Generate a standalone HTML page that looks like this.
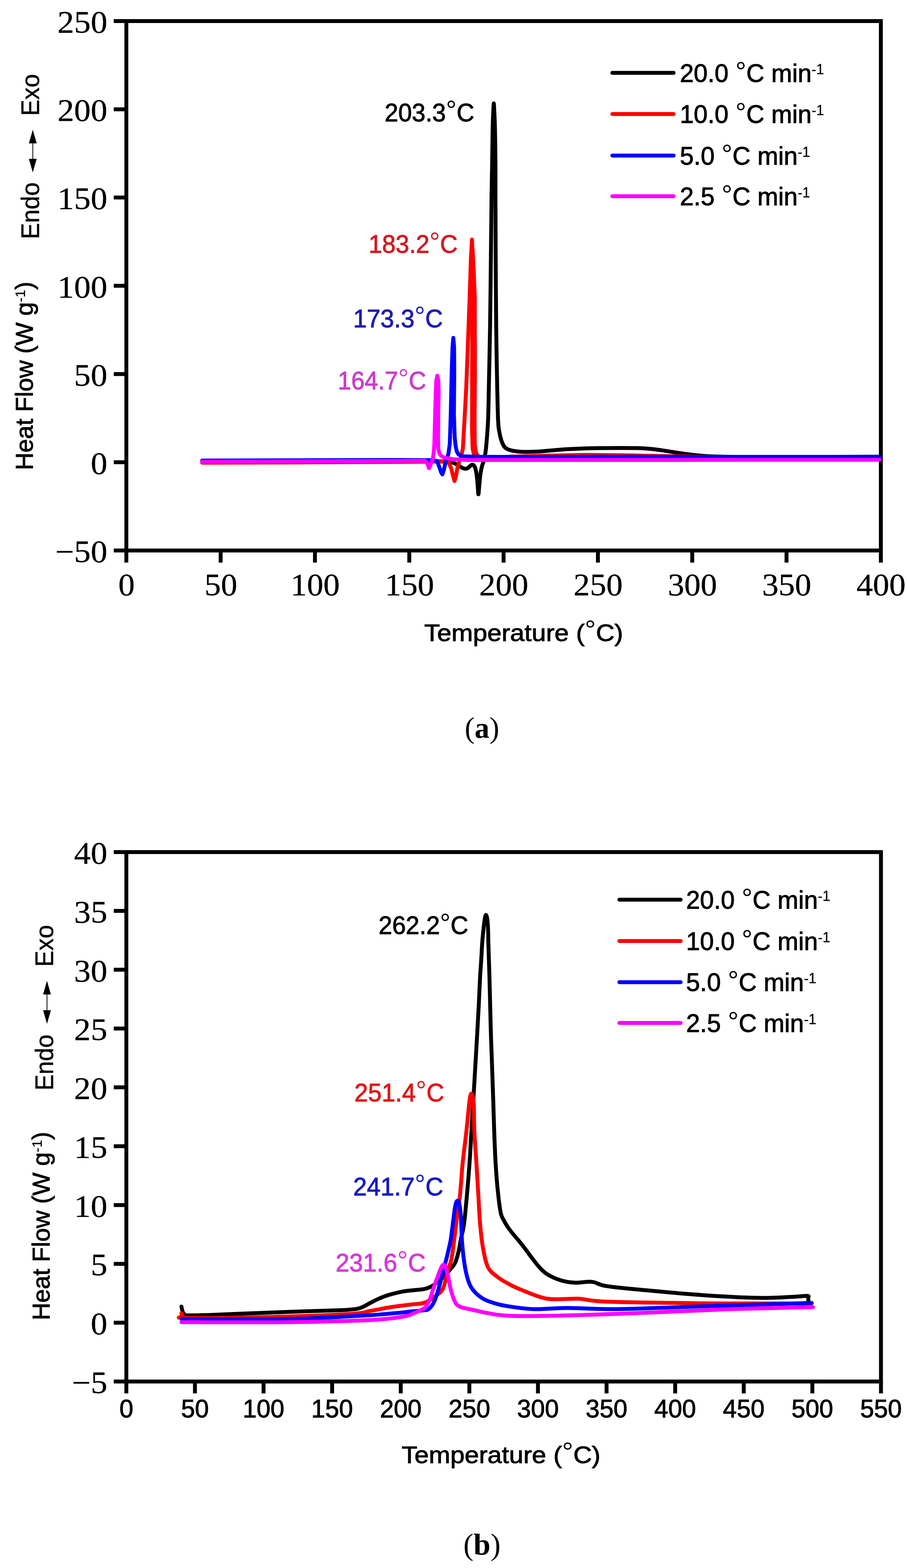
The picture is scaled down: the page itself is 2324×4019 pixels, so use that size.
<!DOCTYPE html>
<html><head><meta charset="utf-8"><title>DSC curves</title>
<style>html,body{margin:0;padding:0;background:#fff;} svg{display:block;}</style>
</head><body>
<svg width="2324" height="4019" viewBox="0 0 2324 4019">
<rect width="2324" height="4019" fill="#fff"/>
<rect x="323.7" y="54.0" width="1933.3" height="1357.0" fill="none" stroke="#000" stroke-width="10"/>
<line x1="291.5" y1="54.0" x2="323.7" y2="54.0" stroke="#000" stroke-width="10"/>
<line x1="291.5" y1="280.2" x2="323.7" y2="280.2" stroke="#000" stroke-width="10"/>
<line x1="291.5" y1="506.3" x2="323.7" y2="506.3" stroke="#000" stroke-width="10"/>
<line x1="291.5" y1="732.5" x2="323.7" y2="732.5" stroke="#000" stroke-width="10"/>
<line x1="291.5" y1="958.7" x2="323.7" y2="958.7" stroke="#000" stroke-width="10"/>
<line x1="291.5" y1="1184.8" x2="323.7" y2="1184.8" stroke="#000" stroke-width="10"/>
<line x1="291.5" y1="1411.0" x2="323.7" y2="1411.0" stroke="#000" stroke-width="10"/>
<line x1="323.7" y1="1411.0" x2="323.7" y2="1442" stroke="#000" stroke-width="10"/>
<line x1="565.4" y1="1411.0" x2="565.4" y2="1442" stroke="#000" stroke-width="10"/>
<line x1="807.0" y1="1411.0" x2="807.0" y2="1442" stroke="#000" stroke-width="10"/>
<line x1="1048.7" y1="1411.0" x2="1048.7" y2="1442" stroke="#000" stroke-width="10"/>
<line x1="1290.3" y1="1411.0" x2="1290.3" y2="1442" stroke="#000" stroke-width="10"/>
<line x1="1532.0" y1="1411.0" x2="1532.0" y2="1442" stroke="#000" stroke-width="10"/>
<line x1="1773.7" y1="1411.0" x2="1773.7" y2="1442" stroke="#000" stroke-width="10"/>
<line x1="2015.3" y1="1411.0" x2="2015.3" y2="1442" stroke="#000" stroke-width="10"/>
<line x1="2257.0" y1="1411.0" x2="2257.0" y2="1442" stroke="#000" stroke-width="10"/>
<rect x="323.7" y="2184.0" width="1933.6000000000001" height="1357.0" fill="none" stroke="#000" stroke-width="10"/>
<line x1="291.5" y1="2184.0" x2="323.7" y2="2184.0" stroke="#000" stroke-width="10"/>
<line x1="291.5" y1="2334.8" x2="323.7" y2="2334.8" stroke="#000" stroke-width="10"/>
<line x1="291.5" y1="2485.6" x2="323.7" y2="2485.6" stroke="#000" stroke-width="10"/>
<line x1="291.5" y1="2636.3" x2="323.7" y2="2636.3" stroke="#000" stroke-width="10"/>
<line x1="291.5" y1="2787.1" x2="323.7" y2="2787.1" stroke="#000" stroke-width="10"/>
<line x1="291.5" y1="2937.9" x2="323.7" y2="2937.9" stroke="#000" stroke-width="10"/>
<line x1="291.5" y1="3088.7" x2="323.7" y2="3088.7" stroke="#000" stroke-width="10"/>
<line x1="291.5" y1="3239.4" x2="323.7" y2="3239.4" stroke="#000" stroke-width="10"/>
<line x1="291.5" y1="3390.2" x2="323.7" y2="3390.2" stroke="#000" stroke-width="10"/>
<line x1="291.5" y1="3541.0" x2="323.7" y2="3541.0" stroke="#000" stroke-width="10"/>
<line x1="323.7" y1="3541.0" x2="323.7" y2="3571.5" stroke="#000" stroke-width="10"/>
<line x1="499.5" y1="3541.0" x2="499.5" y2="3571.5" stroke="#000" stroke-width="10"/>
<line x1="675.3" y1="3541.0" x2="675.3" y2="3571.5" stroke="#000" stroke-width="10"/>
<line x1="851.0" y1="3541.0" x2="851.0" y2="3571.5" stroke="#000" stroke-width="10"/>
<line x1="1026.8" y1="3541.0" x2="1026.8" y2="3571.5" stroke="#000" stroke-width="10"/>
<line x1="1202.6" y1="3541.0" x2="1202.6" y2="3571.5" stroke="#000" stroke-width="10"/>
<line x1="1378.4" y1="3541.0" x2="1378.4" y2="3571.5" stroke="#000" stroke-width="10"/>
<line x1="1554.2" y1="3541.0" x2="1554.2" y2="3571.5" stroke="#000" stroke-width="10"/>
<line x1="1730.0" y1="3541.0" x2="1730.0" y2="3571.5" stroke="#000" stroke-width="10"/>
<line x1="1905.7" y1="3541.0" x2="1905.7" y2="3571.5" stroke="#000" stroke-width="10"/>
<line x1="2081.5" y1="3541.0" x2="2081.5" y2="3571.5" stroke="#000" stroke-width="10"/>
<line x1="2257.3" y1="3541.0" x2="2257.3" y2="3571.5" stroke="#000" stroke-width="10"/>
<path d="M518.0,1183.0 C548.3,1182.9 636.3,1182.7 700.0,1182.5 C763.7,1182.3 833.3,1182.1 900.0,1182.0 C966.7,1181.9 1058.3,1181.8 1100.0,1182.0 C1141.7,1182.2 1140.2,1182.4 1150.0,1183.0 C1159.8,1183.6 1155.7,1184.3 1159.0,1185.5 C1162.3,1186.7 1166.7,1188.2 1170.0,1190.0 C1173.3,1191.8 1176.3,1194.3 1179.0,1196.0 C1181.7,1197.7 1183.5,1199.1 1186.0,1200.0 C1188.5,1200.9 1191.4,1201.7 1193.7,1201.5 C1196.0,1201.3 1198.1,1200.2 1200.0,1199.0 C1201.9,1197.8 1203.2,1195.3 1205.0,1194.0 C1206.8,1192.7 1209.0,1190.3 1211.0,1191.0 C1213.0,1191.7 1215.3,1194.0 1217.0,1198.0 C1218.7,1202.0 1219.8,1207.2 1221.0,1215.0 C1222.2,1222.8 1223.2,1236.3 1224.0,1245.0 C1224.8,1253.7 1225.1,1267.0 1225.8,1267.0 C1226.5,1267.0 1227.1,1253.7 1228.0,1245.0 C1228.9,1236.3 1229.8,1223.3 1231.0,1215.0 C1232.2,1206.7 1233.7,1200.3 1235.0,1195.0 C1236.3,1189.7 1237.8,1187.2 1239.0,1183.0 C1240.2,1178.8 1240.9,1175.9 1242.0,1170.0 C1243.1,1164.1 1244.0,1163.3 1245.4,1147.6 C1246.8,1131.9 1249.3,1107.8 1250.6,1076.0 C1251.9,1044.2 1252.4,996.7 1253.3,957.0 C1254.2,917.3 1254.9,890.8 1255.7,838.0 C1256.5,785.2 1257.4,696.3 1258.0,640.0 C1258.6,583.7 1259.0,536.7 1259.5,500.0 C1260.0,463.3 1260.5,448.3 1261.0,420.0 C1261.5,391.7 1261.8,352.5 1262.3,330.0 C1262.8,307.5 1263.5,295.8 1264.0,285.0 C1264.5,274.2 1264.8,265.0 1265.2,265.0 C1265.6,265.0 1266.0,274.2 1266.5,285.0 C1267.0,295.8 1267.8,307.5 1268.3,330.0 C1268.8,352.5 1269.3,391.7 1269.5,420.0 C1269.7,448.3 1269.4,463.3 1269.5,500.0 C1269.6,536.7 1269.7,583.7 1270.0,640.0 C1270.3,696.3 1270.9,785.2 1271.4,838.0 C1272.0,890.8 1272.5,917.3 1273.3,957.0 C1274.1,996.7 1275.1,1050.5 1276.2,1076.0 C1277.3,1101.5 1278.5,1101.0 1280.0,1110.0 C1281.5,1119.0 1283.0,1124.2 1285.0,1130.0 C1287.0,1135.8 1289.8,1141.5 1292.3,1145.0 C1294.8,1148.5 1296.2,1149.2 1300.0,1151.0 C1303.8,1152.8 1309.0,1154.3 1315.0,1155.5 C1321.0,1156.7 1325.7,1157.7 1336.0,1158.0 C1346.3,1158.3 1363.0,1158.2 1377.0,1157.5 C1391.0,1156.8 1406.2,1155.1 1420.0,1154.0 C1433.8,1152.9 1440.3,1151.9 1460.0,1151.0 C1479.7,1150.1 1509.2,1149.0 1538.0,1148.6 C1566.8,1148.2 1609.3,1148.0 1633.0,1148.6 C1656.7,1149.2 1665.5,1150.4 1680.0,1152.0 C1694.5,1153.6 1706.7,1156.0 1720.0,1158.0 C1733.3,1160.0 1743.8,1162.1 1760.0,1164.0 C1776.2,1165.9 1793.7,1168.3 1817.0,1169.5 C1840.3,1170.7 1852.8,1170.8 1900.0,1171.0 C1947.2,1171.2 2041.2,1171.1 2100.0,1171.0 C2158.8,1170.9 2227.5,1170.6 2253.0,1170.5" fill="none" stroke="#000" stroke-width="10" stroke-linejoin="round" stroke-linecap="round"/>
<path d="M518.0,1186.0 L800.0,1185.0 L1000.0,1184.0 L1140.0,1183.0 L1149.0,1184.0 L1156.0,1200.0 L1161.0,1220.0 L1164.5,1233.0 L1168.0,1222.0 L1172.0,1200.0 L1176.4,1184.0 L1181.0,1172.0 L1186.0,1150.0 L1190.0,1080.0 L1194.6,994.0 L1199.0,880.0 L1203.3,763.0 L1206.5,665.0 L1209.3,614.0" fill="none" stroke="#ff0000" stroke-width="10" stroke-linejoin="round" stroke-linecap="round"/>
<path d="M1209.3,614.0 L1211.0,650.0 L1210.5,760.0 L1209.8,947.0 L1209.5,1100.0 L1211.0,1150.0 L1214.0,1163.0" fill="none" stroke="#ff0000" stroke-width="10" stroke-linejoin="round" stroke-linecap="round"/>
<path d="M1211.0,640.0 L1214.0,700.0 L1216.5,760.0 L1217.0,947.0 L1216.0,1080.0 L1216.5,1140.0 L1220.0,1162.0 L1226.0,1170.0 L1237.0,1173.0 L1260.0,1173.0 L1320.0,1170.0 L1400.0,1168.0 L1500.0,1166.0 L1600.0,1167.0 L1700.0,1169.0 L1900.0,1172.0 L2253.0,1172.0" fill="none" stroke="#ff0000" stroke-width="10" stroke-linejoin="round" stroke-linecap="round"/>
<path d="M518.0,1180.5 L800.0,1179.5 L1000.0,1179.0 L1112.0,1179.5 L1120.0,1182.0 L1126.0,1198.0 L1130.0,1210.0 L1133.5,1216.0 L1137.0,1205.0 L1141.0,1188.0 L1145.0,1176.0 L1149.0,1163.0 L1152.5,1137.0 L1155.0,1061.0 L1157.5,950.0 L1159.5,890.0 L1161.5,866.0 L1163.5,890.0 L1164.0,950.0 L1163.0,1061.0 L1165.0,1120.0 L1167.0,1140.0 L1170.0,1156.0 L1175.0,1165.0 L1185.0,1169.5 L1230.0,1171.0 L1400.0,1171.0 L1600.0,1170.5 L1800.0,1171.0 L2000.0,1171.0 L2253.0,1171.0" fill="none" stroke="#0000ff" stroke-width="10" stroke-linejoin="round" stroke-linecap="round"/>
<path d="M518.0,1183.5 L800.0,1182.5 L1000.0,1181.5 L1088.0,1181.0 L1093.0,1184.0 L1097.0,1194.0 L1099.5,1200.0 L1102.0,1194.0 L1106.0,1184.0 L1109.0,1175.0 L1111.5,1160.0 L1113.0,1137.0 L1115.0,1061.0 L1116.5,1005.0 L1118.0,975.0 L1120.5,963.0 L1123.0,975.0 L1124.0,1005.0 L1123.0,1061.0 L1122.5,1120.0 L1123.0,1150.0 L1126.0,1163.0 L1131.0,1169.0 L1140.0,1173.5 L1160.0,1177.0 L1200.0,1179.0 L1400.0,1179.0 L1700.0,1179.0 L2000.0,1178.5 L2253.0,1178.5" fill="none" stroke="#ff00ff" stroke-width="10" stroke-linejoin="round" stroke-linecap="round"/>
<path d="M465.0,3349.0 C465.5,3351.2 466.7,3358.7 468.0,3362.0 C469.3,3365.3 470.7,3367.4 473.0,3369.0 C475.3,3370.6 469.2,3371.3 482.0,3371.5 C494.8,3371.7 527.0,3370.8 550.0,3370.0 C573.0,3369.2 595.0,3368.0 620.0,3367.0 C645.0,3366.0 672.7,3365.0 700.0,3364.0 C727.3,3363.0 759.0,3361.8 784.0,3361.0 C809.0,3360.2 831.7,3359.7 850.0,3359.0 C868.3,3358.3 882.0,3358.0 894.0,3357.0 C906.0,3356.0 912.5,3355.9 921.7,3353.0 C930.9,3350.1 941.0,3343.5 949.0,3339.5 C957.0,3335.5 962.7,3332.2 970.0,3329.0 C977.3,3325.8 982.8,3323.1 993.0,3320.0 C1003.2,3316.9 1020.3,3312.6 1031.5,3310.4 C1042.7,3308.2 1051.9,3307.9 1060.0,3307.0 C1068.1,3306.1 1074.3,3305.8 1080.0,3305.0 C1085.7,3304.2 1089.6,3303.6 1094.4,3302.0 C1099.2,3300.4 1103.7,3298.5 1108.8,3295.3 C1113.9,3292.1 1119.8,3287.4 1125.0,3283.0 C1130.2,3278.6 1135.0,3274.2 1140.0,3269.0 C1145.0,3263.8 1150.6,3257.5 1155.0,3252.0 C1159.4,3246.5 1163.0,3244.0 1166.5,3236.0 C1170.0,3228.0 1173.6,3214.2 1176.0,3204.0 C1178.4,3193.8 1178.8,3186.0 1181.0,3175.0 C1183.2,3164.0 1186.3,3157.4 1188.9,3138.0 C1191.5,3118.6 1194.4,3085.1 1196.8,3058.7 C1199.2,3032.3 1201.3,3005.8 1203.2,2979.4 C1205.1,2953.0 1206.5,2923.2 1207.9,2900.0 C1209.3,2876.8 1210.2,2859.0 1211.4,2840.0 C1212.6,2821.0 1213.8,2803.0 1214.8,2786.0 C1215.8,2769.0 1216.4,2759.2 1217.6,2738.0 C1218.8,2716.8 1220.7,2685.5 1222.2,2659.0 C1223.7,2632.5 1225.3,2603.8 1226.6,2579.0 C1227.9,2554.2 1228.8,2529.3 1229.8,2510.0 C1230.8,2490.7 1231.9,2478.8 1232.9,2463.0 C1233.9,2447.2 1234.7,2428.8 1235.7,2415.0 C1236.7,2401.2 1238.0,2389.8 1239.0,2380.0 C1240.0,2370.2 1241.0,2361.8 1242.0,2356.0 C1243.0,2350.2 1244.1,2345.0 1245.2,2345.0 C1246.3,2345.0 1247.6,2350.2 1248.5,2356.0 C1249.4,2361.8 1250.0,2370.2 1250.5,2380.0 C1251.0,2389.8 1250.9,2401.2 1251.3,2415.0 C1251.7,2428.8 1252.3,2447.2 1252.8,2463.0 C1253.3,2478.8 1253.8,2490.7 1254.3,2510.0 C1254.8,2529.3 1255.4,2554.2 1256.0,2579.0 C1256.6,2603.8 1257.3,2632.5 1258.1,2659.0 C1258.9,2685.5 1260.1,2711.7 1261.0,2738.0 C1261.9,2764.3 1262.8,2790.0 1263.7,2817.0 C1264.6,2844.0 1265.3,2872.9 1266.3,2900.0 C1267.3,2927.1 1268.4,2955.6 1269.8,2979.4 C1271.2,3003.2 1272.5,3021.8 1274.6,3042.9 C1276.7,3064.1 1279.8,3092.1 1282.5,3106.3 C1285.2,3120.5 1287.9,3121.6 1291.0,3128.0 C1294.1,3134.4 1297.3,3139.5 1301.0,3145.0 C1304.7,3150.5 1308.2,3155.0 1313.0,3161.0 C1317.8,3167.0 1324.7,3174.5 1330.0,3181.0 C1335.3,3187.5 1339.7,3193.0 1345.0,3200.0 C1350.3,3207.0 1355.8,3215.0 1362.0,3223.0 C1368.2,3231.0 1375.3,3240.8 1382.0,3248.0 C1388.7,3255.2 1392.7,3260.3 1402.0,3266.0 C1411.3,3271.7 1426.0,3278.4 1438.0,3282.0 C1450.0,3285.6 1460.8,3287.1 1474.0,3287.7 C1487.2,3288.3 1504.2,3284.1 1517.5,3285.6 C1530.8,3287.1 1530.8,3292.8 1553.6,3296.4 C1576.4,3300.0 1613.7,3303.2 1654.5,3307.0 C1695.3,3310.8 1750.6,3316.1 1798.6,3319.4 C1846.6,3322.7 1904.1,3325.8 1942.7,3326.6 C1981.3,3327.4 2009.1,3324.8 2030.0,3324.0 C2050.9,3323.2 2061.2,3321.3 2068.0,3321.6 C2074.8,3321.9 2070.5,3323.3 2071.0,3326.0 C2071.5,3328.7 2071.0,3336.0 2071.0,3338.0" fill="none" stroke="#000" stroke-width="10" stroke-linejoin="round" stroke-linecap="round"/>
<path d="M465.0,3366.0 C465.5,3367.3 466.3,3372.0 468.0,3374.0 C469.7,3376.0 440.6,3377.7 475.0,3378.0 C509.4,3378.3 604.7,3377.7 674.6,3376.0 C744.5,3374.3 848.5,3370.7 894.2,3368.0 C939.9,3365.3 930.7,3363.0 949.0,3360.0 C967.3,3357.0 985.7,3352.8 1004.0,3350.0 C1022.3,3347.2 1046.3,3344.5 1059.0,3343.0 C1071.7,3341.5 1074.0,3342.2 1080.0,3341.0 C1086.0,3339.8 1090.0,3338.5 1095.0,3336.0 C1100.0,3333.5 1105.0,3329.5 1110.0,3326.0 C1115.0,3322.5 1121.3,3318.0 1125.0,3315.0 C1128.7,3312.0 1129.8,3311.3 1132.0,3308.0 C1134.2,3304.7 1135.5,3303.3 1138.0,3295.0 C1140.5,3286.7 1143.9,3269.2 1147.0,3258.0 C1150.1,3246.8 1153.8,3241.0 1156.6,3228.0 C1159.3,3215.0 1161.5,3194.7 1163.5,3180.0 C1165.5,3165.3 1167.1,3151.7 1168.5,3140.0 C1169.9,3128.3 1170.6,3120.2 1172.0,3110.0 C1173.4,3099.8 1175.4,3092.3 1177.0,3079.0 C1178.6,3065.7 1180.2,3046.5 1181.6,3030.0 C1183.0,3013.5 1183.4,3001.7 1185.6,2980.0 C1187.8,2958.3 1192.3,2924.5 1195.0,2900.0 C1197.7,2875.5 1200.1,2847.7 1201.7,2833.0 C1203.3,2818.3 1203.5,2817.0 1204.5,2812.0 C1205.5,2807.0 1206.7,2803.0 1207.8,2803.0 C1208.9,2803.0 1210.0,2807.0 1211.0,2812.0 C1212.0,2817.0 1213.2,2818.3 1214.0,2833.0 C1214.8,2847.7 1214.4,2875.6 1215.5,2900.0 C1216.6,2924.4 1218.9,2953.0 1220.6,2979.4 C1222.2,3005.8 1223.8,3032.3 1225.4,3058.7 C1227.0,3085.1 1228.1,3114.2 1230.2,3138.0 C1232.3,3161.8 1234.7,3183.1 1238.1,3201.6 C1241.5,3220.1 1244.7,3237.1 1250.8,3249.0 C1256.9,3260.9 1266.4,3266.3 1274.6,3273.0 C1282.8,3279.7 1290.8,3283.8 1300.0,3288.9 C1309.2,3294.0 1313.0,3296.9 1330.0,3303.6 C1347.0,3310.2 1376.8,3324.6 1402.0,3328.8 C1427.2,3333.0 1457.5,3327.6 1481.5,3328.8 C1505.5,3330.0 1505.2,3334.2 1546.0,3336.0 C1586.8,3337.8 1672.4,3338.8 1726.5,3339.6 C1780.6,3340.4 1811.8,3340.8 1870.7,3341.0 C1929.6,3341.2 2044.9,3341.0 2079.7,3341.0" fill="none" stroke="#ff0000" stroke-width="10" stroke-linejoin="round" stroke-linecap="round"/>
<path d="M465.0,3381.0 C509.1,3381.0 648.8,3382.7 729.5,3381.0 C810.2,3379.3 894.1,3374.3 949.0,3371.0 C1003.9,3367.7 1036.3,3363.1 1059.0,3361.0 C1081.7,3358.9 1078.3,3359.5 1085.0,3358.5 C1091.7,3357.5 1094.2,3359.1 1099.0,3355.0 C1103.8,3350.9 1109.1,3344.0 1113.6,3334.0 C1118.1,3324.0 1122.0,3309.0 1126.0,3295.0 C1130.0,3281.0 1134.4,3262.2 1137.6,3250.0 C1140.8,3237.8 1142.9,3230.3 1145.0,3222.0 C1147.1,3213.7 1148.4,3207.3 1150.0,3200.0 C1151.6,3192.7 1152.9,3189.8 1154.8,3178.0 C1156.7,3166.2 1159.6,3142.0 1161.3,3129.0 C1163.0,3116.0 1163.8,3107.7 1165.0,3100.0 C1166.2,3092.3 1167.3,3086.8 1168.5,3083.0 C1169.7,3079.2 1171.0,3077.8 1172.2,3077.5 C1173.4,3077.2 1174.5,3078.1 1175.5,3081.0 C1176.5,3083.9 1177.6,3088.5 1178.5,3095.0 C1179.4,3101.5 1180.1,3105.8 1181.0,3120.0 C1181.9,3134.2 1182.5,3162.0 1183.7,3180.0 C1185.0,3198.0 1186.6,3213.6 1188.5,3228.0 C1190.4,3242.4 1192.6,3255.3 1195.3,3266.5 C1198.0,3277.7 1200.9,3287.3 1204.9,3295.3 C1208.9,3303.3 1213.5,3308.7 1219.3,3314.5 C1225.1,3320.3 1233.2,3326.1 1240.0,3330.0 C1246.8,3333.9 1251.0,3335.2 1260.0,3338.0 C1269.0,3340.8 1276.3,3343.9 1294.0,3346.8 C1311.7,3349.7 1339.5,3354.5 1366.0,3355.5 C1392.5,3356.5 1416.7,3352.6 1452.7,3352.6 C1488.7,3352.6 1524.3,3356.2 1582.0,3355.5 C1639.7,3354.8 1715.6,3351.0 1798.6,3348.3 C1881.5,3345.7 2032.8,3341.1 2079.7,3339.6" fill="none" stroke="#0000ff" stroke-width="10" stroke-linejoin="round" stroke-linecap="round"/>
<path d="M465.0,3389.0 C509.1,3389.0 648.8,3389.9 729.5,3389.0 C810.2,3388.1 898.7,3385.7 949.0,3383.4 C999.3,3381.1 1013.0,3377.9 1031.5,3375.0 C1050.0,3372.1 1051.9,3369.0 1060.0,3366.0 C1068.1,3363.0 1075.1,3359.5 1080.0,3357.0 C1084.9,3354.5 1086.3,3354.8 1089.6,3351.0 C1092.9,3347.2 1096.6,3341.8 1100.0,3334.0 C1103.4,3326.2 1107.2,3312.3 1110.0,3304.0 C1112.8,3295.7 1114.3,3291.3 1117.0,3284.0 C1119.7,3276.7 1123.5,3266.3 1126.0,3260.0 C1128.5,3253.7 1130.2,3249.1 1132.0,3246.0 C1133.8,3242.9 1135.2,3241.5 1136.7,3241.5 C1138.2,3241.5 1139.2,3241.8 1141.0,3246.0 C1142.8,3250.2 1144.9,3256.7 1147.2,3266.5 C1149.5,3276.3 1152.1,3293.8 1155.0,3305.0 C1157.9,3316.2 1161.0,3326.8 1164.5,3334.0 C1168.0,3341.2 1169.2,3344.3 1176.0,3348.0 C1182.8,3351.7 1185.3,3352.0 1205.0,3356.0 C1224.7,3360.0 1255.2,3369.3 1294.0,3372.0 C1332.8,3374.7 1377.9,3373.2 1438.0,3372.0 C1498.1,3370.8 1582.4,3367.6 1654.5,3364.8 C1726.6,3362.1 1799.3,3357.9 1870.7,3355.5 C1942.1,3353.1 2047.6,3351.2 2083.0,3350.4" fill="none" stroke="#ff00ff" stroke-width="10" stroke-linejoin="round" stroke-linecap="round"/>
<line x1="1569" y1="186.8" x2="1726" y2="186.8" stroke="#000" stroke-width="10" stroke-linecap="round"/>
<text x="1742" y="209.8" font-family="'Liberation Sans', Arial, sans-serif" font-size="64" fill="#000" stroke="#000" stroke-width="1.3">20.0 <tspan font-size="70" dy="-2" stroke-width="0">°</tspan><tspan font-size="64" dy="2">C min</tspan><tspan font-size="36" dy="-20" stroke-width="0.4">-1</tspan></text>
<line x1="1569" y1="292.3" x2="1726" y2="292.3" stroke="#ff0000" stroke-width="10" stroke-linecap="round"/>
<text x="1742" y="315.3" font-family="'Liberation Sans', Arial, sans-serif" font-size="64" fill="#000" stroke="#000" stroke-width="1.3">10.0 <tspan font-size="70" dy="-2" stroke-width="0">°</tspan><tspan font-size="64" dy="2">C min</tspan><tspan font-size="36" dy="-20" stroke-width="0.4">-1</tspan></text>
<line x1="1569" y1="398.7" x2="1726" y2="398.7" stroke="#0000ff" stroke-width="10" stroke-linecap="round"/>
<text x="1742" y="421.7" font-family="'Liberation Sans', Arial, sans-serif" font-size="64" fill="#000" stroke="#000" stroke-width="1.3">5.0 <tspan font-size="70" dy="-2" stroke-width="0">°</tspan><tspan font-size="64" dy="2">C min</tspan><tspan font-size="36" dy="-20" stroke-width="0.4">-1</tspan></text>
<line x1="1569" y1="503" x2="1726" y2="503" stroke="#ff00ff" stroke-width="10" stroke-linecap="round"/>
<text x="1742" y="526" font-family="'Liberation Sans', Arial, sans-serif" font-size="64" fill="#000" stroke="#000" stroke-width="1.3">2.5 <tspan font-size="70" dy="-2" stroke-width="0">°</tspan><tspan font-size="64" dy="2">C min</tspan><tspan font-size="36" dy="-20" stroke-width="0.4">-1</tspan></text>
<line x1="1587" y1="2306" x2="1744" y2="2306" stroke="#000" stroke-width="10" stroke-linecap="round"/>
<text x="1758" y="2329" font-family="'Liberation Sans', Arial, sans-serif" font-size="64" fill="#000" stroke="#000" stroke-width="1.3">20.0 <tspan font-size="70" dy="-2" stroke-width="0">°</tspan><tspan font-size="64" dy="2">C min</tspan><tspan font-size="36" dy="-20" stroke-width="0.4">-1</tspan></text>
<line x1="1587" y1="2412" x2="1744" y2="2412" stroke="#ff0000" stroke-width="10" stroke-linecap="round"/>
<text x="1758" y="2435" font-family="'Liberation Sans', Arial, sans-serif" font-size="64" fill="#000" stroke="#000" stroke-width="1.3">10.0 <tspan font-size="70" dy="-2" stroke-width="0">°</tspan><tspan font-size="64" dy="2">C min</tspan><tspan font-size="36" dy="-20" stroke-width="0.4">-1</tspan></text>
<line x1="1587" y1="2517.4" x2="1744" y2="2517.4" stroke="#0000ff" stroke-width="10" stroke-linecap="round"/>
<text x="1758" y="2540.4" font-family="'Liberation Sans', Arial, sans-serif" font-size="64" fill="#000" stroke="#000" stroke-width="1.3">5.0 <tspan font-size="70" dy="-2" stroke-width="0">°</tspan><tspan font-size="64" dy="2">C min</tspan><tspan font-size="36" dy="-20" stroke-width="0.4">-1</tspan></text>
<line x1="1587" y1="2622" x2="1744" y2="2622" stroke="#ff00ff" stroke-width="10" stroke-linecap="round"/>
<text x="1758" y="2645" font-family="'Liberation Sans', Arial, sans-serif" font-size="64" fill="#000" stroke="#000" stroke-width="1.3">2.5 <tspan font-size="70" dy="-2" stroke-width="0">°</tspan><tspan font-size="64" dy="2">C min</tspan><tspan font-size="36" dy="-20" stroke-width="0.4">-1</tspan></text>
<text transform="translate(985.5,310.5) scale(0.98,1)" font-family="'Liberation Sans', Arial, sans-serif" font-size="64" fill="#000" stroke="#000" stroke-width="1.3">203.3<tspan font-size="70" dy="-3.5" stroke-width="0">°</tspan><tspan font-size="64" dy="3.5">C</tspan></text>
<text transform="translate(944.4,648) scale(0.974,1)" font-family="'Liberation Sans', Arial, sans-serif" font-size="64" fill="#d01c22" stroke="#d01c22" stroke-width="1.3">183.2<tspan font-size="70" dy="-3.5" stroke-width="0">°</tspan><tspan font-size="64" dy="3.5">C</tspan></text>
<text transform="translate(905,838.6) scale(0.981,1)" font-family="'Liberation Sans', Arial, sans-serif" font-size="64" fill="#1c1cb8" stroke="#1c1cb8" stroke-width="1.3">173.3<tspan font-size="70" dy="-3.5" stroke-width="0">°</tspan><tspan font-size="64" dy="3.5">C</tspan></text>
<text transform="translate(865.5,998) scale(0.966,1)" font-family="'Liberation Sans', Arial, sans-serif" font-size="64" fill="#cc3ccc" stroke="#cc3ccc" stroke-width="1.3">164.7<tspan font-size="70" dy="-3.5" stroke-width="0">°</tspan><tspan font-size="64" dy="3.5">C</tspan></text>
<text transform="translate(970,2394.4) scale(0.981,1)" font-family="'Liberation Sans', Arial, sans-serif" font-size="64" fill="#000" stroke="#000" stroke-width="1.3">262.2<tspan font-size="70" dy="-3.5" stroke-width="0">°</tspan><tspan font-size="64" dy="3.5">C</tspan></text>
<text transform="translate(908,2823.3) scale(0.982,1)" font-family="'Liberation Sans', Arial, sans-serif" font-size="64" fill="#e01818" stroke="#e01818" stroke-width="1.3">251.4<tspan font-size="70" dy="-3.5" stroke-width="0">°</tspan><tspan font-size="64" dy="3.5">C</tspan></text>
<text transform="translate(905,3063.5) scale(0.984,1)" font-family="'Liberation Sans', Arial, sans-serif" font-size="64" fill="#1818c8" stroke="#1818c8" stroke-width="1.3">241.7<tspan font-size="70" dy="-3.5" stroke-width="0">°</tspan><tspan font-size="64" dy="3.5">C</tspan></text>
<text transform="translate(860,3259) scale(0.985,1)" font-family="'Liberation Sans', Arial, sans-serif" font-size="64" fill="#d838d8" stroke="#d838d8" stroke-width="1.3">231.6<tspan font-size="70" dy="-3.5" stroke-width="0">°</tspan><tspan font-size="64" dy="3.5">C</tspan></text>
<text transform="translate(275,84.0) scale(1.065,1)" font-family="'Liberation Serif', 'Times New Roman', serif" font-size="80" text-anchor="end" stroke="#000" stroke-width="0.5">250</text>
<text transform="translate(275,310.2) scale(1.065,1)" font-family="'Liberation Serif', 'Times New Roman', serif" font-size="80" text-anchor="end" stroke="#000" stroke-width="0.5">200</text>
<text transform="translate(275,536.3) scale(1.065,1)" font-family="'Liberation Serif', 'Times New Roman', serif" font-size="80" text-anchor="end" stroke="#000" stroke-width="0.5">150</text>
<text transform="translate(275,762.5) scale(1.065,1)" font-family="'Liberation Serif', 'Times New Roman', serif" font-size="80" text-anchor="end" stroke="#000" stroke-width="0.5">100</text>
<text transform="translate(275,988.7) scale(1.065,1)" font-family="'Liberation Serif', 'Times New Roman', serif" font-size="80" text-anchor="end" stroke="#000" stroke-width="0.5">50</text>
<text transform="translate(275,1214.8) scale(1.065,1)" font-family="'Liberation Serif', 'Times New Roman', serif" font-size="80" text-anchor="end" stroke="#000" stroke-width="0.5">0</text>
<text transform="translate(275,1441.0) scale(1.065,1)" font-family="'Liberation Serif', 'Times New Roman', serif" font-size="80" text-anchor="end" stroke="#000" stroke-width="0.5">−50</text>
<text transform="translate(324.2,1526) scale(1.05,1)" font-family="'Liberation Serif', 'Times New Roman', serif" font-size="80" text-anchor="middle" stroke="#000" stroke-width="0.5">0</text>
<text transform="translate(565.9,1526) scale(1.05,1)" font-family="'Liberation Serif', 'Times New Roman', serif" font-size="80" text-anchor="middle" stroke="#000" stroke-width="0.5">50</text>
<text transform="translate(807.5,1526) scale(1.05,1)" font-family="'Liberation Serif', 'Times New Roman', serif" font-size="80" text-anchor="middle" stroke="#000" stroke-width="0.5">100</text>
<text transform="translate(1049.2,1526) scale(1.05,1)" font-family="'Liberation Serif', 'Times New Roman', serif" font-size="80" text-anchor="middle" stroke="#000" stroke-width="0.5">150</text>
<text transform="translate(1290.8,1526) scale(1.05,1)" font-family="'Liberation Serif', 'Times New Roman', serif" font-size="80" text-anchor="middle" stroke="#000" stroke-width="0.5">200</text>
<text transform="translate(1532.5,1526) scale(1.05,1)" font-family="'Liberation Serif', 'Times New Roman', serif" font-size="80" text-anchor="middle" stroke="#000" stroke-width="0.5">250</text>
<text transform="translate(1774.2,1526) scale(1.05,1)" font-family="'Liberation Serif', 'Times New Roman', serif" font-size="80" text-anchor="middle" stroke="#000" stroke-width="0.5">300</text>
<text transform="translate(2015.8,1526) scale(1.05,1)" font-family="'Liberation Serif', 'Times New Roman', serif" font-size="80" text-anchor="middle" stroke="#000" stroke-width="0.5">350</text>
<text transform="translate(2257.5,1526) scale(1.05,1)" font-family="'Liberation Serif', 'Times New Roman', serif" font-size="80" text-anchor="middle" stroke="#000" stroke-width="0.5">400</text>
<text transform="translate(275,2214.0) scale(1.065,1)" font-family="'Liberation Serif', 'Times New Roman', serif" font-size="80" text-anchor="end" stroke="#000" stroke-width="0.5">40</text>
<text transform="translate(275,2364.8) scale(1.065,1)" font-family="'Liberation Serif', 'Times New Roman', serif" font-size="80" text-anchor="end" stroke="#000" stroke-width="0.5">35</text>
<text transform="translate(275,2515.6) scale(1.065,1)" font-family="'Liberation Serif', 'Times New Roman', serif" font-size="80" text-anchor="end" stroke="#000" stroke-width="0.5">30</text>
<text transform="translate(275,2666.3) scale(1.065,1)" font-family="'Liberation Serif', 'Times New Roman', serif" font-size="80" text-anchor="end" stroke="#000" stroke-width="0.5">25</text>
<text transform="translate(275,2817.1) scale(1.065,1)" font-family="'Liberation Serif', 'Times New Roman', serif" font-size="80" text-anchor="end" stroke="#000" stroke-width="0.5">20</text>
<text transform="translate(275,2967.9) scale(1.065,1)" font-family="'Liberation Serif', 'Times New Roman', serif" font-size="80" text-anchor="end" stroke="#000" stroke-width="0.5">15</text>
<text transform="translate(275,3118.7) scale(1.065,1)" font-family="'Liberation Serif', 'Times New Roman', serif" font-size="80" text-anchor="end" stroke="#000" stroke-width="0.5">10</text>
<text transform="translate(275,3269.4) scale(1.065,1)" font-family="'Liberation Serif', 'Times New Roman', serif" font-size="80" text-anchor="end" stroke="#000" stroke-width="0.5">5</text>
<text transform="translate(275,3420.2) scale(1.065,1)" font-family="'Liberation Serif', 'Times New Roman', serif" font-size="80" text-anchor="end" stroke="#000" stroke-width="0.5">0</text>
<text transform="translate(275,3571.0) scale(1.065,1)" font-family="'Liberation Serif', 'Times New Roman', serif" font-size="80" text-anchor="end" stroke="#000" stroke-width="0.5">−5</text>
<text x="323.7" y="3633" font-family="'Liberation Sans', Arial, sans-serif" font-size="64" text-anchor="middle" fill="#000" stroke="#000" stroke-width="1.3">0</text>
<text x="499.5" y="3633" font-family="'Liberation Sans', Arial, sans-serif" font-size="64" text-anchor="middle" fill="#000" stroke="#000" stroke-width="1.3">50</text>
<text x="675.3" y="3633" font-family="'Liberation Sans', Arial, sans-serif" font-size="64" text-anchor="middle" fill="#000" stroke="#000" stroke-width="1.3">100</text>
<text x="851.0" y="3633" font-family="'Liberation Sans', Arial, sans-serif" font-size="64" text-anchor="middle" fill="#000" stroke="#000" stroke-width="1.3">150</text>
<text x="1026.8" y="3633" font-family="'Liberation Sans', Arial, sans-serif" font-size="64" text-anchor="middle" fill="#000" stroke="#000" stroke-width="1.3">200</text>
<text x="1202.6" y="3633" font-family="'Liberation Sans', Arial, sans-serif" font-size="64" text-anchor="middle" fill="#000" stroke="#000" stroke-width="1.3">250</text>
<text x="1378.4" y="3633" font-family="'Liberation Sans', Arial, sans-serif" font-size="64" text-anchor="middle" fill="#000" stroke="#000" stroke-width="1.3">300</text>
<text x="1554.2" y="3633" font-family="'Liberation Sans', Arial, sans-serif" font-size="64" text-anchor="middle" fill="#000" stroke="#000" stroke-width="1.3">350</text>
<text x="1730.0" y="3633" font-family="'Liberation Sans', Arial, sans-serif" font-size="64" text-anchor="middle" fill="#000" stroke="#000" stroke-width="1.3">400</text>
<text x="1905.7" y="3633" font-family="'Liberation Sans', Arial, sans-serif" font-size="64" text-anchor="middle" fill="#000" stroke="#000" stroke-width="1.3">450</text>
<text x="2081.5" y="3633" font-family="'Liberation Sans', Arial, sans-serif" font-size="64" text-anchor="middle" fill="#000" stroke="#000" stroke-width="1.3">500</text>
<text x="2257.3" y="3633" font-family="'Liberation Sans', Arial, sans-serif" font-size="64" text-anchor="middle" fill="#000" stroke="#000" stroke-width="1.3">550</text>
<text transform="translate(1087,1642.6) scale(1.065,1)" font-family="'Liberation Sans', Arial, sans-serif" font-size="62" stroke="#000" stroke-width="1.3">Temperature (<tspan font-size="68" stroke-width="0" dy="-5">°</tspan><tspan font-size="62" dy="5">C)</tspan></text>
<text transform="translate(1029,3750.3) scale(1.065,1)" font-family="'Liberation Sans', Arial, sans-serif" font-size="62" stroke="#000" stroke-width="1.3">Temperature (<tspan font-size="68" stroke-width="0" dy="-5">°</tspan><tspan font-size="62" dy="5">C)</tspan></text>
<text transform="translate(83.5,1205) rotate(-90) scale(0.992,1)" font-family="'Liberation Sans', Arial, sans-serif" font-size="63" stroke="#000" stroke-width="1.3">Heat Flow (W g<tspan font-size="36" dy="-20" stroke-width="0.4">-1</tspan><tspan font-size="63" dy="20">)</tspan></text>
<text transform="translate(100.4,613) rotate(-90) scale(0.975,1)" font-family="'Liberation Sans', Arial, sans-serif" font-size="64" stroke="#000" stroke-width="0.7">Endo</text>
<text transform="translate(100.4,297) rotate(-90) scale(0.975,1)" font-family="'Liberation Sans', Arial, sans-serif" font-size="64" stroke="#000" stroke-width="0.7">Exo</text>
<line x1="84" y1="367.6" x2="84" y2="407" stroke="#333" stroke-width="2.6"/>
<polygon points="84,332.6 74,367.6 94,367.6" fill="#000"/>
<polygon points="84,442 74,407 94,407" fill="#000"/>
<text transform="translate(126.6,3384) rotate(-90) scale(0.992,1)" font-family="'Liberation Sans', Arial, sans-serif" font-size="63" stroke="#000" stroke-width="1.3">Heat Flow (W g<tspan font-size="36" dy="-20" stroke-width="0.4">-1</tspan><tspan font-size="63" dy="20">)</tspan></text>
<text transform="translate(135.8,2795) rotate(-90) scale(0.96,1)" font-family="'Liberation Sans', Arial, sans-serif" font-size="64" stroke="#000" stroke-width="0.7">Endo</text>
<text transform="translate(135.8,2478) rotate(-90) scale(0.973,1)" font-family="'Liberation Sans', Arial, sans-serif" font-size="64" stroke="#000" stroke-width="0.7">Exo</text>
<line x1="120.4" y1="2549" x2="120.4" y2="2589.3" stroke="#333" stroke-width="2.6"/>
<polygon points="120.4,2514 110.4,2549 130.4,2549" fill="#000"/>
<polygon points="120.4,2624.3 110.4,2589.3 130.4,2589.3" fill="#000"/>
<text x="1235" y="1891" font-family="'Liberation Serif', 'Times New Roman', serif" font-size="76" text-anchor="middle">(<tspan font-weight="bold">a</tspan>)</text>
<text x="1235" y="3985" font-family="'Liberation Serif', 'Times New Roman', serif" font-size="78" text-anchor="middle">(<tspan font-weight="bold">b</tspan>)</text>
</svg>
</body></html>
